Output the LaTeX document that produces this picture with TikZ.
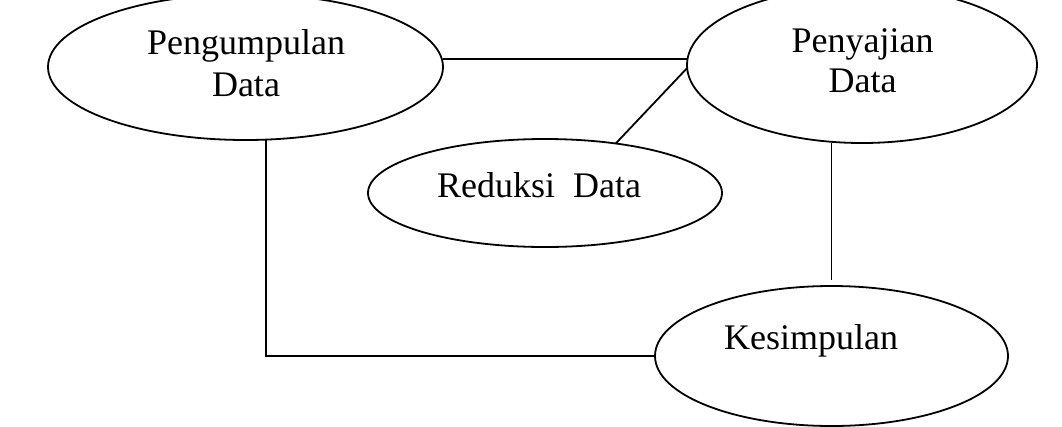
\documentclass[tikz,border=0pt]{standalone}
\usepackage{fontspec}
\setmainfont{Liberation Serif}
\usepackage{tikz}
\usetikzlibrary{shapes.geometric,calc}
\tikzset{
  proses/.style={draw,ellipse,line width=1.8pt,inner sep=0pt,outer sep=0pt},
  teks/.style={inner sep=0pt,align=center,font=\fontsize{36}{42}\selectfont},
  garis/.style={line width=1.8pt}
}
\begin{document}
\begin{tikzpicture}[x=1pt,y=1pt]
  \useasboundingbox (0,0) rectangle (1062,-426);
  % elips
  \node[proses,minimum width=395pt,minimum height=146pt] (pd) at (245.5,-67) {};
  \node[proses,minimum width=350pt,minimum height=156pt] (ps) at (862,-65) {};
  \node[proses,minimum width=354pt,minimum height=108pt] (rd) at (545,-193) {};
  \node[proses,minimum width=353pt,minimum height=140pt] (ks) at (831.5,-356) {};
  % teks
  \node[teks] (tpd) at (246,-63.5) {Pengumpulan\\Data};
  \node[teks,font=\fontsize{36}{40}\selectfont] (tps) at (862.5,-60.5) {Penyajian\\Data};
  \node[teks,anchor=base] (trd) at (539,-197) {Reduksi\ \ Data};
  \node[teks,anchor=base] (tks) at (811,-349) {Kesimpulan};
  % garis
  \draw[garis] (pd.east |- ps.178) -- (ps.178);
  \draw[garis] (ps.181) -- (rd.35);
  \draw[garis,shorten >=6pt] (ks.north |- ps.south) -- (ks.north);
  \draw[garis] ([xshift=20.5pt]pd.south) |- (ks.west);
\end{tikzpicture}
\end{document}
